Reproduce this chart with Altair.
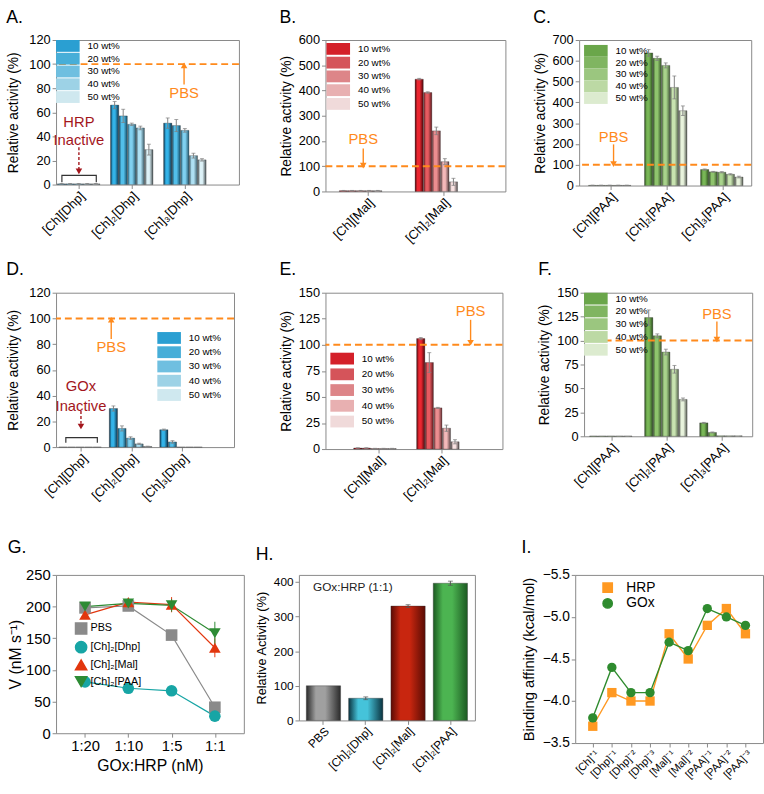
import altair as alt
import pandas as pd

FONT = "Liberation Sans"
SERIES = ["10 wt%", "20 wt%", "30 wt%", "40 wt%", "50 wt%"]
ORANGE = "#ff8a1c"
DARKRED = "#a3161c"
ERR = "#7f7f7f"

# ---------------- data ----------------
A_cats = ["[Ch][Dhp]", "[Ch]₂[Dhp]", "[Ch]₃[Dhp]"]
A_vals = [[0.6, 0.6, 0.6, 0.6, 0.6], [66, 57, 50, 47, 29], [51, 49, 45, 24, 20.5]]
A_err = [[0.3, 0.3, 0.3, 0.3, 0.3], [3, 5.5, 1, 1.5, 4.5], [4.3, 5, 1.5, 2, 1]]

B_cats = ["[Ch][Mal]", "[Ch]₂[Mal]"]
B_vals = [[3, 3, 3, 3, 3], [445, 392, 240, 118, 38]]
B_err = [[1, 1, 1, 1, 1], [3, 3, 15, 12, 14]]

C_cats = ["[Ch][PAA]", "[Ch]₂[PAA]", "[Ch]₃[PAA]"]
C_vals = [[1, 1, 1, 1, 1], [638, 612, 578, 472, 360], [77, 66, 64, 54, 41]]
C_err = [[0.5, 0.5, 0.5, 0.5, 0.5], [16, 10, 12, 55, 23], [3, 2, 3, 3, 4]]

D_cats = ["[Ch][Dhp]", "[Ch]₂[Dhp]", "[Ch]₃[Dhp]"]
D_vals = [[0, 0, 0, 0, 0], [30, 14.5, 7, 2.5, 0.5], [13.5, 4, 0, 0, 0]]
D_err = [[0, 0, 0, 0, 0], [2, 2, 1, 0.5, 0.2], [0.5, 1, 0, 0, 0]]

E_cats = ["[Ch][Mal]", "[Ch]₂[Mal]"]
E_vals = [[1, 1, 0.5, 0.5, 0.5], [106, 83, 39.5, 20, 7]]
E_err = [[0.2, 0.2, 0.2, 0.2, 0.2], [1, 9.5, 0.5, 3, 2]]

F_cats = ["[Ch][PAA]", "[Ch]₂[PAA]", "[Ch]₃[PAA]"]
F_vals = [[0.3, 0.3, 0.3, 0.3, 0.3], [124, 105, 88, 70, 38.5], [14, 4, 0.5, 0.5, 0.5]]
F_err = [[0, 0, 0, 0, 0], [8, 2, 3, 4, 1.5], [0.5, 0.5, 0, 0, 0]]

G_ratios = ["1:20", "1:10", "1:5", "1:1"]
G_names = ["PBS", "[Ch]₂[Dhp]", "[Ch]₂[Mal]", "[Ch]₂[PAA]"]
G_vals = [[198, 201, 155, 41], [81, 71, 67, 27], [187, 207, 203, 135], [200, 205, 202, 158]]
G_errs = [[3, 3, 3, 3], [2, 2, 2, 2], [4, 5, 12, 15], [4, 4, 10, 18]]

H_cats = ["PBS", "[Ch]₂[Dhp]", "[Ch]₂[Mal]", "[Ch]₂[PAA]"]
H_vals = [100, 64, 330, 396]
H_err = [0, 4, 4, 6]

I_cats = ["[Ch]⁺¹", "[Dhp]⁻¹", "[Dhp]⁻²", "[Dhp]⁻³", "[Mal]⁻¹", "[Mal]⁻²",
          "[PAA]⁻¹", "[PAA]⁻²", "[PAA]⁻³"]
I_HRP = [-3.7, -4.1, -4.0, -4.0, -4.8, -4.5, -4.9, -5.1, -4.8]
I_GOx = [-3.8, -4.4, -4.1, -4.1, -4.7, -4.6, -5.1, -5.0, -4.9]

# ---------------- colours ----------------
BLUE_C = ["#33b3e8", "#52bfea", "#7fd0f0", "#aee0f3", "#ddf2f8"]
BLUE_E = ["#0a2f48", "#164c66", "#275a70", "#3a5965", "#4b5558"]
BLUE_L = ["#2a9fd2", "#47aed8", "#6fbfe0", "#9dd2e6", "#cfe8ef"]
RED_C = ["#ea2630", "#e65a60", "#ec8d90", "#f3b8b9", "#f9e2e2"]
RED_E = ["#4d080c", "#5e1a1e", "#6a3336", "#5b4445", "#4f4747"]
RED_L = ["#d42029", "#d5545a", "#dd8588", "#e8b0b1", "#f0dada"]
GRN_C = ["#78b656", "#8fc46d", "#a8d38b", "#c8e3b0", "#e8f3dc"]
GRN_E = ["#2b4c1d", "#38572a", "#465f3a", "#52604b", "#565b53"]
GRN_L = ["#6aa64a", "#80b561", "#9bc67f", "#bcd9a4", "#dcebcf"]

H_center = ["#a0a0a0", "#45c3da", "#c8260f", "#4cb451"]
H_edge = ["#2a2a2a", "#0b3440", "#5a0c04", "#1c5a22"]

G_colors = ["#8a8a8a", "#17a5a5", "#e2360e", "#2e8b34"]
G_shapes = ["square", "circle", "triangle-up", "triangle-down"]
I_colors = ["#ff9922", "#2e8b2e"]

FRAC = alt.Scale(domain=[0, 1], nice=False, zero=False)


def grad(edge, center):
    return alt.LinearGradient(
        gradient="linear", x1=0, x2=1, y1=0, y2=0,
        stops=[alt.GradientStop(offset=0, color=edge),
               alt.GradientStop(offset=0.28, color=center),
               alt.GradientStop(offset=0.55, color=center),
               alt.GradientStop(offset=1, color=edge)])


def bar_df(cats, vals, errs):
    rows = []
    for c, vr, er in zip(cats, vals, errs):
        for s, v, e in zip(SERIES, vr, er):
            rows.append(dict(cat=c, series=s, val=v, lo=max(v - e, 0), hi=v + e))
    return pd.DataFrame(rows)


def arrow(x, y_from, y_to, color, Y, dashed=False, head=45):
    d = pd.DataFrame({"ax": [x], "y1": [y_from], "y2": [y_to]})
    kw = dict(color=color, strokeWidth=1.4)
    if dashed:
        kw["strokeDash"] = [3, 2]
    line = alt.Chart(d).mark_rule(**kw).encode(
        x=alt.X("ax:Q", scale=FRAC, axis=None), y=Y("y1"), y2="y2:Q")
    shape = "triangle-down" if y_to < y_from else "triangle-up"
    tip = alt.Chart(d).mark_point(shape=shape, filled=True, size=head, color=color,
                                   opacity=1).encode(
        x=alt.X("ax:Q", scale=FRAC, axis=None), y=Y("y2"))
    return [line, tip]


def text(xs, ys, labels, color, Y, size=14, align="center"):
    d = pd.DataFrame({"ax": xs, "ay": ys, "t": labels})
    return alt.Chart(d).mark_text(color=color, fontSize=size, font=FONT, align=align,
                                  baseline="middle").encode(
        x=alt.X("ax:Q", scale=FRAC, axis=None), y=Y("ay"), text="t:N")


def bracket(x0, x1, top, leg, Y):
    d = pd.DataFrame({"ax": [x0, x0, x1, x1], "ay": [leg, top, top, leg], "o": [0, 1, 2, 3]})
    return alt.Chart(d).mark_line(color="#333333", strokeWidth=1.2).encode(
        x=alt.X("ax:Q", scale=FRAC, axis=None), y=Y("ay"), order="o:O")


def bar_panel(letter, cats, vals, errs, centers, edges, legcols, ymax, ystep, w, h,
              xrange, pi, leg_x, leg_y, row_pad, ann, title_off, ytp=5):
    df = bar_df(cats, vals, errs)
    ysc = alt.Scale(domain=[0, ymax], nice=False, zero=True)
    xsc = alt.Scale(domain=cats, range=xrange, paddingInner=pi, paddingOuter=pi / 2)
    xosc = alt.Scale(domain=SERIES, paddingInner=0.04, paddingOuter=0)
    xaxis = alt.Axis(title=None, labelAngle=-45, labelFontSize=13, domain=False,
                     tickSize=4, labelPadding=1)
    yaxis = alt.Axis(title="Relative activity (%)", values=list(range(0, ymax + 1, ystep)),
                     domain=False, tickSize=4, labelFontSize=13, titleFontSize=14,
                     titlePadding=ytp)

    def Y(field):
        return alt.Y(field + ":Q", scale=ysc, axis=yaxis)

    def X():
        return alt.X("cat:N", scale=xsc, axis=xaxis)

    base = alt.Chart(df)
    xo = alt.XOffset("series:N", scale=xosc)
    layers = []
    for i, s in enumerate(SERIES):
        layers.append(
            base.transform_filter(alt.datum.series == s)
            .mark_bar(color=grad(edges[i], centers[i]), stroke="#2b2b2b", strokeWidth=0.3)
            .encode(x=X(), xOffset=xo, y=Y("val")))
    legend = base.transform_filter("false").mark_bar().encode(
        x=X(), y=Y("val"),
        color=alt.Color("series:N", scale=alt.Scale(domain=SERIES, range=legcols),
                        legend=alt.Legend(title=None, orient="none", legendX=leg_x,
                                          legendY=leg_y, symbolType="M-2,-1H2V1H-2Z",
                                          symbolSize=144, symbolStrokeWidth=0,
                                          labelFontSize=10, labelFont=FONT,
                                          labelOffset=14, rowPadding=row_pad, padding=0)))
    eb = base.transform_filter(alt.datum.hi > alt.datum.lo)
    err_rule = eb.mark_rule(color=ERR, strokeWidth=1).encode(
        x=X(), xOffset=xo, y=Y("lo"), y2="hi:Q")
    cap_lo = eb.mark_tick(color=ERR, thickness=1, size=4).encode(x=X(), xOffset=xo, y=Y("lo"))
    cap_hi = eb.mark_tick(color=ERR, thickness=1, size=4).encode(x=X(), xOffset=xo, y=Y("hi"))
    bars = alt.layer(*layers, legend, err_rule, cap_lo, cap_hi)

    pbs_line = alt.Chart(pd.DataFrame({"y": [100]})).mark_rule(
        color=ORANGE, strokeDash=[7, 4], strokeWidth=2).encode(y=Y("y"))
    ann_layers = [pbs_line, text([ann["pbs_x"]], [ann["pbs_y"]], ["PBS"], ORANGE, Y, 15)]
    ann_layers += arrow(ann["pbs_x"], ann["arr"][0], ann["arr"][1], ORANGE, Y)
    if "inact" in ann:
        ia = ann["inact"]
        ann_layers.append(text([ia["x"], ia["x"]], ia["ys"], ia["labels"], DARKRED, Y, 15))
        ann_layers += arrow(ia["x"], ia["arr"][0], ia["arr"][1], DARKRED, Y, dashed=True)
        ann_layers.append(bracket(ia["b"][0], ia["b"][1], ia["b"][2], ia["b"][3], Y))
    annot = alt.layer(*ann_layers)
    return alt.layer(bars, annot).resolve_scale(x="independent").properties(
        width=w, height=h, title=alt.TitleParams(letter, offset=title_off))


A = bar_panel("A.", A_cats, A_vals, A_err, BLUE_C, BLUE_E, BLUE_L, 120, 20, 186, 147,
              [-4, 158], 0.2, 6, 0, 1,
              dict(pbs_x=0.70, pbs_y=76, arr=(83, 99),
                   inact=dict(x=0.125, ys=[52, 37], labels=["HRP", "Inactive"],
                              arr=(31, 11), b=(0.032, 0.22, 7.6, 2))), 7.5, ytp=9)
B = bar_panel("B.", B_cats, B_vals, B_err, RED_C, RED_E, RED_L, 600, 100, 183, 154,
              [4.5, 158.5], 0.25, 7, 3, 2,
              dict(pbs_x=0.21, pbs_y=206, arr=(170, 102)), 7.5)
C = bar_panel("C.", C_cats, C_vals, C_err, GRN_C, GRN_E, GRN_L, 700, 100, 175, 148,
              [3.5, 174.5], 0.21, 11, 5, 0,
              dict(pbs_x=0.2, pbs_y=233, arr=(198, 103)), 7.5)
D = bar_panel("D.", D_cats, D_vals, D_err, BLUE_C, BLUE_E, BLUE_L, 120, 20, 181, 157,
              [0, 154], 0.11, 109, 40, 2.5,
              dict(pbs_x=0.31, pbs_y=78, arr=(84, 99),
                   inact=dict(x=0.14, ys=[47.5, 32], labels=["GOx", "Inactive"],
                              arr=(28, 16), b=(0.055, 0.232, 7.3, 3.4))), 8.5, ytp=9)
E = bar_panel("E.", E_cats, E_vals, E_err, RED_C, RED_E, RED_L, 150, 25, 180, 159,
              [22, 150], 0.21, 11, 61, 4,
              dict(pbs_x=0.82, pbs_y=132, arr=(124, 102)), 8.5)
F = bar_panel("F.", F_cats, F_vals, F_err, GRN_C, GRN_E, GRN_L, 150, 25, 171, 146,
              [0, 168], 0.2, 6, 0, 1,
              dict(pbs_x=0.79, pbs_y=128, arr=(120, 101)), 8.5)

# ---------------- G ----------------
g_rows = []
for n, vr, er in zip(G_names, G_vals, G_errs):
    for r, v, e in zip(G_ratios, vr, er):
        g_rows.append(dict(ratio=r, name=n, val=v, lo=v - e, hi=v + e))
gdf = pd.DataFrame(g_rows)
g_y = alt.Scale(domain=[0, 250], nice=False)
g_x = alt.Scale(type="point", domain=G_ratios, padding=0.67)
g_col = alt.Scale(domain=G_names, range=G_colors)
g_shp = alt.Scale(domain=G_names, range=G_shapes)
g_xaxis = alt.Axis(title="GOx:HRP (nM)", labelAngle=0, labelFontSize=15, titleFontSize=16,
                   domain=False, tickSize=4, titlePadding=4)
g_yaxis = alt.Axis(title="V (nM s⁻¹)", values=[0, 50, 100, 150, 200, 250],
                   labelFontSize=15, titleFontSize=16, domain=False, tickSize=4, titlePadding=2)
g_leg = alt.Legend(title=None, orient="none", legendX=19, legendY=48, symbolSize=130,
                   labelFontSize=11, rowPadding=0, labelOffset=3, padding=0)
g_base = alt.Chart(gdf)
GX = alt.X("ratio:N", scale=g_x, axis=g_xaxis)
GC = alt.Color("name:N", scale=g_col, legend=g_leg)
g_line = g_base.mark_line(strokeWidth=1.2).encode(
    x=GX, y=alt.Y("val:Q", scale=g_y, axis=g_yaxis), color=GC, detail="name:N")
g_err = g_base.mark_rule(strokeWidth=1).encode(
    x=GX, y=alt.Y("lo:Q", scale=g_y, axis=g_yaxis), y2="hi:Q", color=GC)
g_pts = g_base.mark_point(filled=True, size=140, opacity=1).encode(
    x=GX, y=alt.Y("val:Q", scale=g_y, axis=g_yaxis), color=GC,
    shape=alt.Shape("name:N", scale=g_shp, legend=g_leg))
G = alt.layer(g_line, g_err, g_pts).properties(
    width=191, height=161, title=alt.TitleParams("G.", offset=11.5))

# ---------------- H ----------------
hdf = pd.DataFrame({"cat": H_cats, "val": H_vals,
                    "lo": [v - e for v, e in zip(H_vals, H_err)],
                    "hi": [v + e for v, e in zip(H_vals, H_err)]})
h_y = alt.Scale(domain=[0, 420], nice=False)
h_x = alt.Scale(domain=H_cats, paddingInner=0.19, paddingOuter=0.175)
h_xaxis = alt.Axis(title=None, labelAngle=-45, labelFontSize=12, domain=False, tickSize=4,
                   labelPadding=1)
h_yaxis = alt.Axis(title="Relative Activity (%)", values=[0, 100, 200, 300, 400],
                   labelFontSize=12, titleFontSize=13, domain=False, tickSize=4, titlePadding=5)


def HY(field):
    return alt.Y(field + ":Q", scale=h_y, axis=h_yaxis)


HX = alt.X("cat:N", scale=h_x, axis=h_xaxis)
h_base = alt.Chart(hdf)
h_layers = []
for i, c in enumerate(H_cats):
    h_layers.append(
        h_base.transform_filter(alt.datum.cat == c)
        .mark_bar(color=grad(H_edge[i], H_center[i]), stroke="#333333", strokeWidth=0.4)
        .encode(x=HX, y=HY("val")))
h_eb = h_base.transform_filter(alt.datum.hi > alt.datum.lo)
h_layers.append(h_eb.mark_rule(color="#555555", strokeWidth=1).encode(x=HX, y=HY("lo"), y2="hi:Q"))
h_layers.append(h_eb.mark_tick(color="#555555", thickness=1, size=5).encode(x=HX, y=HY("lo")))
h_layers.append(h_eb.mark_tick(color="#555555", thickness=1, size=5).encode(x=HX, y=HY("hi")))
h_note = text([0.08], [384], ["GOx:HRP (1:1)"], "#222222", HY, 12, "left")
H = alt.layer(alt.layer(*h_layers), h_note).resolve_scale(x="independent").properties(
    width=179, height=148, title=alt.TitleParams("H.", offset=11.5))

# ---------------- I ----------------
i_rows = []
for n, vals in zip(["HRP", "GOx"], [I_HRP, I_GOx]):
    for c, v in zip(I_cats, vals):
        i_rows.append(dict(cat=c, name=n, val=v))
idf = pd.DataFrame(i_rows)
i_y = alt.Scale(domain=[-5.5, -3.5], reverse=True, nice=False, zero=False)
i_x = alt.Scale(type="point", domain=I_cats, padding=0.92)
i_col = alt.Scale(domain=["HRP", "GOx"], range=I_colors)
i_shp = alt.Scale(domain=["HRP", "GOx"], range=["square", "circle"])
i_xaxis = alt.Axis(title=None, labelAngle=-45, labelFontSize=11, domain=False, tickSize=4,
                   labelPadding=1)
i_yaxis = alt.Axis(title="Binding affinity (kcal/mol)", values=[-5.5, -5.0, -4.5, -4.0, -3.5],
                   format=".1f", labelFontSize=14, titleFontSize=15, domain=False,
                   tickSize=4, titlePadding=6)
i_leg = alt.Legend(title=None, orient="none", legendX=26, legendY=6, symbolSize=90,
                   labelFontSize=14, rowPadding=0, labelOffset=12, padding=0)
i_base = alt.Chart(idf)
IX = alt.X("cat:N", scale=i_x, axis=i_xaxis)
IY = alt.Y("val:Q", scale=i_y, axis=i_yaxis)
IC = alt.Color("name:N", scale=i_col, legend=i_leg)
i_line = i_base.mark_line(strokeWidth=1.4).encode(x=IX, y=IY, color=IC, detail="name:N")
i_pts = i_base.mark_point(filled=True, size=90, opacity=1).encode(
    x=IX, y=IY, color=IC, shape=alt.Shape("name:N", scale=i_shp, legend=i_leg))
I = alt.layer(i_line, i_pts).properties(
    width=191, height=171, title=alt.TitleParams("I.", offset=11.5))


def indep(c):
    return c.resolve_scale(color="independent", shape="independent").resolve_legend(
        color="independent", shape="independent")


row1 = indep(alt.hconcat(A, indep(alt.hconcat(B, C, spacing=25)), spacing=38))
row2 = indep(alt.hconcat(D, indep(alt.hconcat(E, F, spacing=33)), spacing=43))
row3 = indep(alt.hconcat(G, indep(alt.hconcat(H, I, spacing=45)), spacing=10))

lower = indep(alt.vconcat(row2, row3, spacing=35))
chart = indep(alt.vconcat(row1, lower, spacing=14)).properties(
    padding={"left": 5, "top": 2, "right": 0, "bottom": 0}
).configure_axis(
    labelFont=FONT, titleFont=FONT, labelColor="black", titleColor="black",
    tickColor="#888888", grid=False, titleFontWeight="normal"
).configure_view(
    stroke="#888888", strokeWidth=1
).configure_title(
    font=FONT, fontSize=18, fontWeight="normal", anchor="start", color="black"
).configure_legend(
    labelFont=FONT, labelColor="black"
)

chart.save("out.html", embed_options={"renderer": "svg", "actions": False})
